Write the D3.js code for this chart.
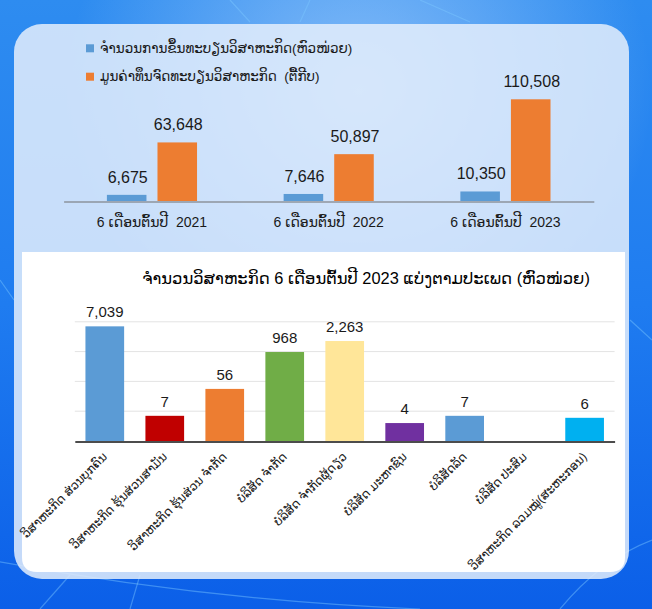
<!DOCTYPE html>
<html><head><meta charset="utf-8">
<script src="https://cdn.jsdelivr.net/npm/d3@7"></script>
<style>
html,body{margin:0;padding:0;background:#1a6fe6;}
svg{display:block;}
</style></head>
<body>
<svg id="chart" width="652" height="609"></svg>
<script>
// ---------- DATA ----------
const legendLabels = ["ຈຳນວນການຂຶ້ນທະບຽນວິສາຫະກິດ(ຫົວໜ່ວຍ)", "ມູນຄ່າທຶນຈົດທະບຽນວິສາຫະກິດ  (ຕື້ກີບ)"];
const periods = ["6 ເດືອນຕົ້ນປີ  2021", "6 ເດືອນຕົ້ນປີ  2022", "6 ເດືອນຕົ້ນປີ  2023"];
const registrations = [6675, 7646, 10350];
const capital = [63648, 50897, 110508];

const typeTitle = "ຈຳນວນວິສາຫະກິດ 6 ເດືອນຕົ້ນປີ 2023 ແບ່ງຕາມປະເພດ (ຫົວໜ່ວຍ)";
const typeCategories = [
  "ວິສາຫະກິດ ສ່ວນບຸກຄົນ",
  "ວິສາຫະກິດ ຮຸ້ນສ່ວນສາມັນ",
  "ວິສາຫະກິດ ຮຸ້ນສ່ວນ ຈຳກັດ",
  "ບໍລິສັດ ຈຳກັດ",
  "ບໍລິສັດ ຈຳກັດຜູ້ດຽວ",
  "ບໍລິສັດ ມະຫາຊົນ",
  "ບໍລິສັດລັດ",
  "ບໍລິສັດ ປະສົມ",
  "ວິສາຫະກິດ ລວມໝູ່(ສະຫະກອນ)"
];
const typeCounts = [7039, 7, 56, 968, 2263, 4, 7, null, 6];
const logTicks = [1, 10, 100, 1000, 10000];

// ---------- STYLE ----------
const seriesColors = ["#5b9bd5", "#ed7d31"];
const typeColors = ["#5b9bd5", "#c00000", "#ed7d31", "#70ad47", "#ffe699", "#7030a0", "#5b9bd5", "#a5a5a5", "#00b0f0"];
const numFont = "'Liberation Sans', Arial, 'DejaVu Sans', sans-serif";
const fmt = d3.format(",");

const svg = d3.select("#chart");
const defs = svg.append("defs");

// background
const bg = defs.append("linearGradient").attr("id", "bg").attr("x1", 0).attr("y1", 0).attr("x2", 0).attr("y2", 1);
bg.append("stop").attr("offset", 0).attr("stop-color", "#2e8cf0");
bg.append("stop").attr("offset", 0.5).attr("stop-color", "#1f7cf0");
bg.append("stop").attr("offset", 1).attr("stop-color", "#0b5fe8");
svg.append("rect").attr("width", 652).attr("height", 609).attr("fill", "url(#bg)");

const rg = defs.append("radialGradient").attr("id", "glow").attr("cx", 0.55).attr("cy", 0.15).attr("r", 0.45);
rg.append("stop").attr("offset", 0).attr("stop-color", "#cfe6ff").attr("stop-opacity", 0.55);
rg.append("stop").attr("offset", 1).attr("stop-color", "#cfe6ff").attr("stop-opacity", 0);
svg.append("rect").attr("width", 652).attr("height", 609).attr("fill", "url(#glow)");

// decorative network lines
const deco = svg.append("g").attr("stroke", "#7cc8ff").attr("stroke-opacity", 0.45).attr("fill", "none").attr("stroke-width", 1.2);
deco.append("path").attr("d", "M-10,560 Q200,600 420,609");
deco.append("path").attr("d", "M40,609 L70,575");
deco.append("path").attr("d", "M130,609 L140,575");
deco.append("path").attr("d", "M560,609 Q600,560 652,540");
deco.append("path").attr("d", "M0,280 L14,300");
deco.append("path").attr("d", "M630,320 L652,340");
deco.append("path").attr("d", "M230,0 L250,22 M310,0 L300,22 M420,0 L470,22");

// outer translucent panel
svg.append("rect").attr("x", 14).attr("y", 24).attr("width", 615).attr("height", 555)
  .attr("rx", 28).attr("fill", "#e3eefb").attr("fill-opacity", 0.86);

// inner white panel
svg.append("path")
  .attr("d", "M22,252 H625 V557 Q625,572 610,572 H37 Q22,572 22,557 Z")
  .attr("fill", "#ffffff");

// ---------- TOP GROUPED BAR CHART ----------
const topG = svg.append("g");
const x0 = d3.scaleBand().domain(periods).range([63.6, 593.8]).paddingInner(0.49).paddingOuter(0.245);
const x1 = d3.scaleBand().domain([0, 1]).range([0, x0.bandwidth()]).paddingInner(0.218);
const yTop = d3.scaleLinear().domain([0, 120000]).range([201, 201 - 120000 * (101.7 / 110508)]);

const groups = periods.map((p, i) => ({ p, vals: [registrations[i], capital[i]] }));
const g = topG.selectAll("g.grp").data(groups).join("g").attr("class", "grp")
  .attr("transform", d => `translate(${x0(d.p)},0)`);
g.selectAll("rect").data(d => d.vals.map((v, k) => ({ v, k }))).join("rect")
  .attr("x", d => x1(d.k)).attr("width", x1.bandwidth())
  .attr("y", d => yTop(d.v)).attr("height", d => yTop(0) - yTop(d.v))
  .attr("fill", d => seriesColors[d.k]);
g.selectAll("text").data(d => d.vals.map((v, k) => ({ v, k }))).join("text")
  .attr("x", d => x1(d.k) + x1.bandwidth() / 2 + 1)
  .attr("y", d => yTop(d.v) - 12)
  .attr("text-anchor", "middle").attr("font-family", numFont).attr("font-size", 16)
  .attr("fill", "#1a1a1a").text(d => fmt(d.v));

// axis
const xAxisTop = topG.append("g").attr("transform", `translate(0,${yTop(0) + 0.5})`)
  .call(d3.axisBottom(x0).tickSize(0).tickPadding(0));
xAxisTop.select(".domain").attr("stroke", "#6f6f6f").attr("stroke-width", 1.2);
xAxisTop.selectAll(".tick text").attr("y", 25).attr("dy", 0)
  .attr("font-family", numFont).attr("font-size", 14).attr("fill", "#1a1a1a")
  .style("white-space", "pre");

// legend
const leg = topG.append("g");
legendLabels.forEach((t, i) => {
  leg.append("rect").attr("x", 86).attr("y", 44.3 + i * 28.4).attr("width", 8).attr("height", 8).attr("fill", seriesColors[i]);
  leg.append("text").attr("x", 100).attr("y", 52.5 + i * 28.4).attr("font-family", numFont)
    .attr("font-size", 13.5).attr("fill", "#1a1a1a").style("white-space", "pre").text(t);
});

// ---------- LOWER LOG BAR CHART ----------
const low = svg.append("g");
const xb = d3.scaleBand().domain(typeCategories).range([74.8, 614.6]).paddingInner(0.355).paddingOuter(0.1775);
const yLog = d3.scaleLog().domain([1, 10000]).range([441, 441 - 4 * 29.8]);

low.append("text").attr("x", 366).attr("y", 284).attr("text-anchor", "middle")
  .attr("font-family", numFont).attr("font-size", 16.4).attr("fill", "#000")
  .text(typeTitle);

low.append("g").selectAll("line").data(logTicks.slice(1)).join("line")
  .attr("x1", 74.8).attr("x2", 614.6).attr("y1", d => yLog(d)).attr("y2", d => yLog(d))
  .attr("stroke", "#e3e3e3").attr("stroke-width", 1);

const typeData = typeCategories.map((c, i) => ({ c, v: typeCounts[i], i })).filter(d => d.v != null && d.v > 0);
low.selectAll("rect.bar").data(typeData).join("rect").attr("class", "bar")
  .attr("x", d => xb(d.c)).attr("width", xb.bandwidth())
  .attr("y", d => yLog(d.v)).attr("height", d => yLog(1) - yLog(d.v))
  .attr("fill", d => typeColors[d.i]);
low.selectAll("text.val").data(typeData).join("text").attr("class", "val")
  .attr("x", d => xb(d.c) + xb.bandwidth() / 2)
  .attr("y", d => yLog(d.v) - 9)
  .attr("text-anchor", "middle").attr("font-family", numFont).attr("font-size", 15)
  .attr("fill", "#1a1a1a").text(d => fmt(d.v));

const xAxisLow = low.append("g").attr("transform", `translate(0,${yLog(1) + 0.5})`)
  .call(d3.axisBottom(xb).tickSize(0).tickPadding(0));
xAxisLow.select(".domain").attr("stroke", "#111").attr("stroke-width", 1.3);
xAxisLow.selectAll(".tick text")
  .attr("x", 0).attr("y", 0).attr("dy", 0)
  .attr("transform", "translate(3,16) rotate(-45)")
  .attr("text-anchor", "end")
  .attr("font-family", numFont).attr("font-size", 12).attr("fill", "#1a1a1a");
</script>
</body></html>
